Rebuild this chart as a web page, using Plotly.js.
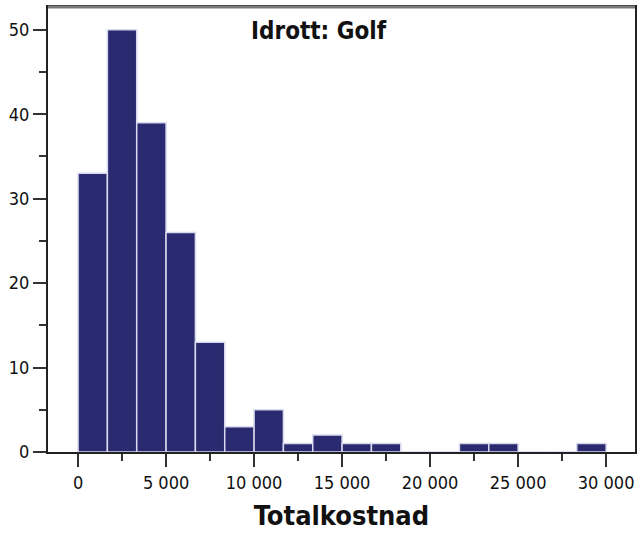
<!DOCTYPE html>
<html><head><meta charset="utf-8">
<script src="https://cdn.plot.ly/plotly-3.0.1.min.js"></script>
<style>html,body{margin:0;padding:0;background:#fff}#c{width:639px;height:533px}</style>
</head><body><div id="c"></div>
<script>
const binStart = 0;
const binWidth = 30000 / 18;
const counts = [33, 50, 39, 26, 13, 3, 5, 1, 2, 1, 1, 0, 0, 1, 1, 0, 0, 1];
const xTickVals = [0, 5000, 10000, 15000, 20000, 25000, 30000];
const xTickText = ['0', '5 000', '10 000', '15 000', '20 000', '25 000', '30 000'];
const yTickVals = [0, 10, 20, 30, 40, 50];
const chartTitle = 'Idrott: Golf';
const xTitle = 'Totalkostnad';

const centers = counts.map((_, i) => binStart + binWidth * (i + 0.5));
const font = '"DejaVu Sans Condensed", "DejaVu Sans", sans-serif';

Plotly.newPlot('c', [{
  type: 'bar',
  x: centers,
  y: counts,
  width: binWidth,
  marker: {color: '#2a2a70', line: {color: '#d8d8ee', width: 1.5}},
  hoverinfo: 'x+y'
}], {
  width: 639, height: 533,
  margin: {l: 48, r: 4, t: 7, b: 81},
  paper_bgcolor: '#fff', plot_bgcolor: '#fff',
  showlegend: false,
  bargap: 0,
  xaxis: {
    range: [-1707, 31640], showgrid: false, zeroline: false,
    showline: true, linecolor: '#222', linewidth: 2, mirror: true,
    tickvals: xTickVals, ticktext: xTickText,
    ticks: 'outside', ticklen: 13, tickwidth: 2, tickcolor: '#333',
    minor: {dtick: 2500, tick0: 0, ticks: 'outside', ticklen: 7, tickwidth: 2, tickcolor: '#333'},
    tickfont: {family: font, size: 18, color: '#111'},
    title: {text: xTitle, font: {family: font, size: 27, color: '#111', weight: 'bold'}, standoff: 15}
  },
  yaxis: {
    range: [0, 52.7], showgrid: false, zeroline: false,
    showline: true, linecolor: '#222', linewidth: 2, mirror: true,
    tickvals: yTickVals,
    ticks: 'outside', ticklen: 13, tickwidth: 2, tickcolor: '#333',
    minor: {dtick: 5, tick0: 0, ticks: 'outside', ticklen: 7, tickwidth: 2, tickcolor: '#333'},
    tickfont: {family: font, size: 18, color: '#111'}
  },
  shapes: [{type: 'line', xref: 'paper', yref: 'paper', x0: 0, x1: 1, y0: 1, y1: 1, line: {color: '#7a7a7a', width: 3}}],
  annotations: [{
    text: chartTitle, xref: 'paper', yref: 'paper', x: 0.4625, y: 0.946, xanchor: 'center', yanchor: 'middle',
    showarrow: false, font: {family: font, size: 24, color: '#111', weight: 'bold'}
  }]
}, {displayModeBar: false, staticPlot: true});
</script></body></html>
